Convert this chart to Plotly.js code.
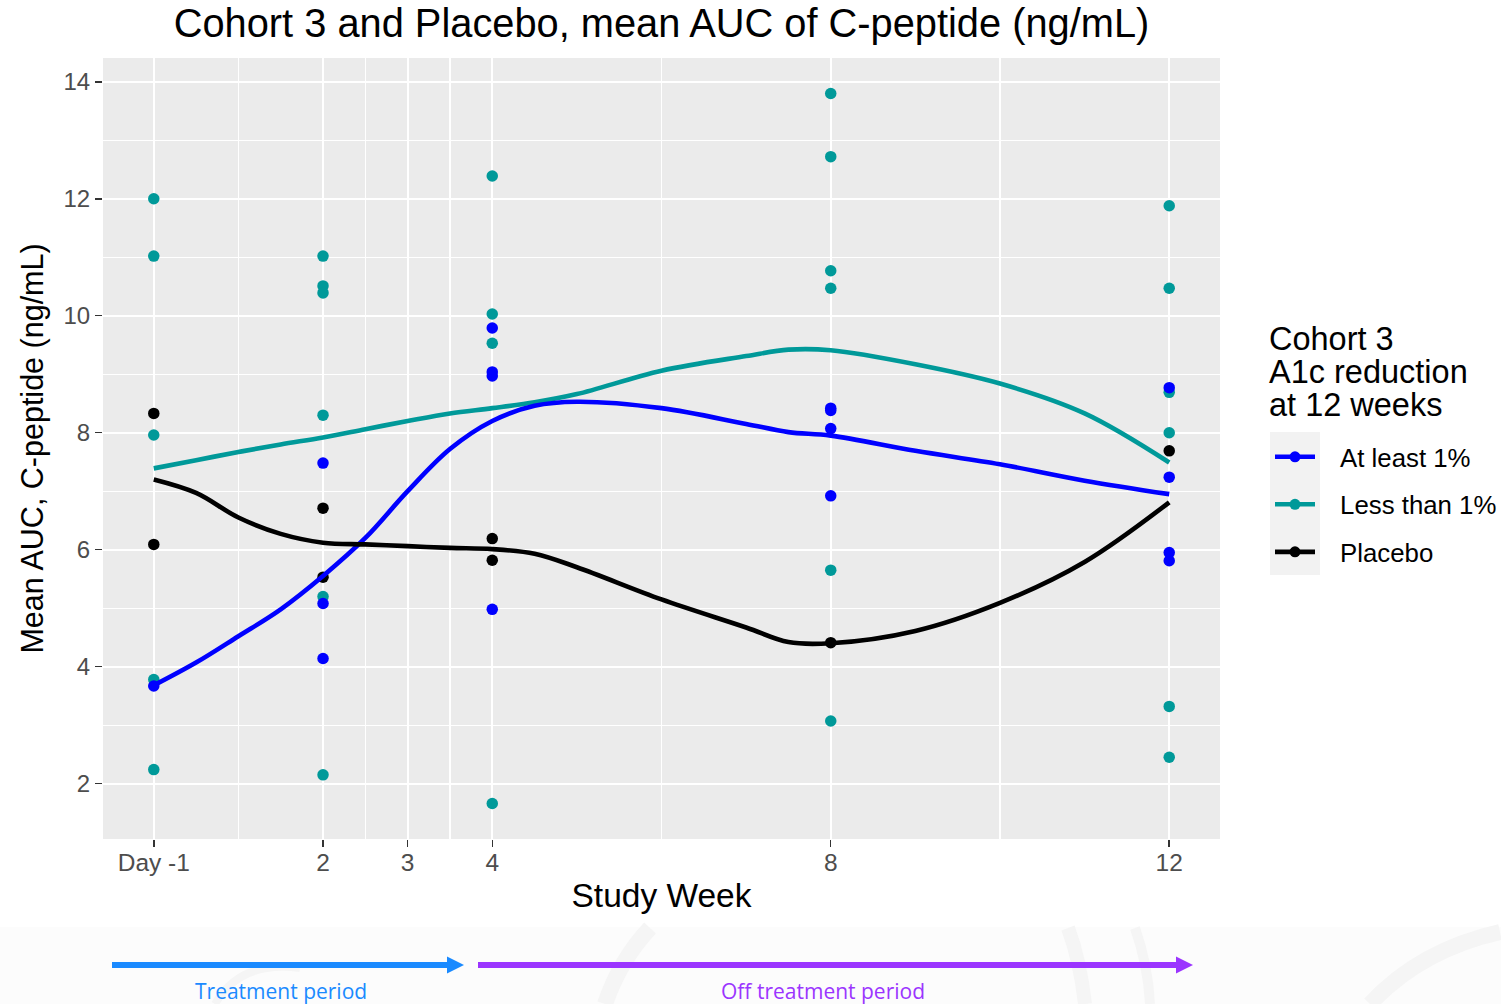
<!DOCTYPE html>
<html>
<head>
<meta charset="utf-8">
<script src="https://cdn.plot.ly/plotly-3.0.1.min.js"></script>
<style>
  html, body { margin: 0; padding: 0; background: #ffffff; }
  #chart { width: 1501px; height: 1004px; }
</style>
</head>
<body>
<div id="chart"></div>
<script>
// ---- x axis: study weeks (Day -1 plotted at 0) ----
const weekTickVals = [0, 2, 3, 4, 8, 12];
const weekTickText = ['Day -1', '2', '3', '4', '8', '12'];
const weekMinorVals = [1, 2.5, 3.5, 6, 10];
const aucTickVals = [2, 4, 6, 8, 10, 12, 14];
const aucMinorVals = [3, 5, 7, 9, 11, 13];

// ---- individual subjects: mean AUC of C-peptide (ng/mL) ----
const atLeastWeek = [0, 2, 2, 2, 4, 4, 4, 4, 8, 8, 8, 8, 12, 12, 12, 12];
const atLeastAuc  = [3.67, 7.48, 5.08, 4.14, 9.79, 9.04, 8.97, 4.98, 8.42, 8.38, 8.07, 6.92, 8.77, 7.24, 5.95, 5.81];

const lessWeek = [0, 0, 0, 0, 0, 2, 2, 2, 2, 2, 2, 4, 4, 4, 4, 8, 8, 8, 8, 8, 8, 12, 12, 12, 12, 12, 12];
const lessAuc  = [12.0, 11.02, 7.96, 3.78, 2.24, 11.02, 10.51, 10.39, 8.30, 5.20, 2.15, 12.39, 10.03, 9.53, 1.66,
                  13.80, 12.72, 10.77, 10.47, 5.65, 3.07, 11.88, 10.47, 8.69, 8.00, 3.32, 2.45];

const placeboWeek = [0, 0, 2, 2, 4, 4, 8, 12];
const placeboAuc  = [8.33, 6.09, 6.71, 5.53, 6.19, 5.82, 4.41, 7.69];

// ---- smoothed group trends ----
const smoothWeek    = [0, 0.5, 1, 1.5, 2, 2.5, 3, 3.5, 4, 4.5, 5, 6, 7, 7.5, 8, 9, 10, 11, 12];
const smoothAtLeast = [3.68, 4.07, 4.52, 4.98, 5.55, 6.20, 7.00, 7.72, 8.20, 8.46, 8.53, 8.42, 8.15, 8.01, 7.95, 7.69, 7.46, 7.18, 6.95];
const smoothLess    = [7.39, 7.53, 7.67, 7.80, 7.92, 8.06, 8.20, 8.33, 8.42, 8.52, 8.66, 9.06, 9.31, 9.42, 9.41, 9.17, 8.84, 8.33, 7.49];
const smoothPlacebo = [7.20, 6.97, 6.55, 6.27, 6.12, 6.09, 6.06, 6.03, 6.01, 5.93, 5.70, 5.15, 4.67, 4.42, 4.40, 4.61, 5.09, 5.79, 6.81];

const groupNames  = ['At least 1%', 'Less than 1%', 'Placebo'];
const groupColors = ['#0000FF', '#009999', '#000000'];

// ---- page geometry helpers (pixel -> paper fraction) ----
const W = 1501, H = 1004;
const M = { l: 103, r: 281, t: 58, b: 165, autoexpand: false };
const PW = W - M.l - M.r, PH = H - M.t - M.b;
const fx = p => (p - M.l) / PW;
const fy = p => (H - M.b - p) / PH;

const FONT = 'Liberation Sans, Arial, sans-serif';
const LINE_W = 4.6, DOT = 11.5;

function pointsTrace(x, y, color) {
  return { x: x, y: y, type: 'scatter', mode: 'markers', showlegend: false, hoverinfo: 'x+y',
           marker: { color: color, size: DOT, line: { width: 0 } } };
}
function smoothTrace(y, color) {
  return { x: smoothWeek, y: y, type: 'scatter', mode: 'lines', showlegend: false, hoverinfo: 'skip',
           line: { color: color, width: LINE_W, shape: 'spline', smoothing: 1 } };
}
// legend entries: line + dot key, label set off from the key
function legendTrace(i) {
  return { x: [null], y: [null], type: 'scatter', mode: 'lines+markers', name: '\u2002\u00A0' + groupNames[i],
           legendgroup: 'g' + i, showlegend: true,
           line: { color: groupColors[i], width: LINE_W }, marker: { color: groupColors[i], size: 11 } };
}

const data = [
  pointsTrace(lessWeek, lessAuc, groupColors[1]),
  pointsTrace(atLeastWeek, atLeastAuc, groupColors[0]),
  pointsTrace(placeboWeek, placeboAuc, groupColors[2]),
  smoothTrace(smoothLess, groupColors[1]),
  smoothTrace(smoothAtLeast, groupColors[0]),
  smoothTrace(smoothPlacebo, groupColors[2]),
  legendTrace(0), legendTrace(1), legendTrace(2)
];

// period arrows below the chart
function arrowShapes(x0, x1, headStart, color) {
  return [
    { type: 'line', xref: 'paper', yref: 'paper', x0: fx(x0), x1: fx(headStart + 1), y0: fy(965), y1: fy(965),
      line: { color: color, width: 6 } },
    { type: 'path', xref: 'paper', yref: 'paper', fillcolor: color, line: { width: 0 },
      path: `M${fx(headStart)},${fy(956.5)} L${fx(x1)},${fy(965)} L${fx(headStart)},${fy(973.5)} Z` }
  ];
}

const faint = '#F5F5F5';
function arc(p0, c, p1, w) {
  return { type: 'path', xref: 'paper', yref: 'paper', layer: 'below', line: { color: faint, width: w },
           path: `M${fx(p0[0])},${fy(p0[1])} Q${fx(c[0])},${fy(c[1])} ${fx(p1[0])},${fy(p1[1])}` };
}

const shapes = [
  // light footer band with faint decorative arcs
  { type: 'rect', xref: 'paper', yref: 'paper', layer: 'below', x0: fx(0), x1: fx(W), y0: fy(927), y1: fy(H),
    fillcolor: '#FCFCFC', line: { width: 0 } },
  arc([605, 1004], [620, 960], [650, 928], 16),
  arc([1085, 1004], [1080, 960], [1068, 928], 14),
  arc([1150, 1004], [1148, 965], [1135, 928], 10),
  arc([1370, 1004], [1420, 950], [1500, 932], 16),
  arc([215, 1004], [240, 960], [300, 968], 8),
  // legend key background
  { type: 'rect', xref: 'paper', yref: 'paper', x0: fx(1270), x1: fx(1320), y0: fy(575), y1: fy(432),
    fillcolor: '#F2F2F2', line: { width: 0 } }
].concat(arrowShapes(112, 464, 447, '#1A8AFF'), arrowShapes(478, 1193, 1176, '#9B35FF'));

const legendTitleLines = ['Cohort 3', 'A1c reduction', 'at 12 weeks'];
const legendTitleY = [339, 372, 404.5];

const annotations = legendTitleLines.map((t, i) => ({
  text: t, xref: 'paper', yref: 'paper', x: fx(1267), y: fy(legendTitleY[i]), xanchor: 'left', yanchor: 'middle',
  showarrow: false, font: { family: FONT, size: 32.5, color: '#000000' }
})).concat([
  { text: 'Treatment period', xref: 'paper', yref: 'paper', x: fx(280.5), y: fy(991), xanchor: 'center', yanchor: 'middle',
    showarrow: false, font: { family: 'Open Sans, sans-serif', size: 21, color: '#1A8AFF' } },
  { text: 'Off treatment period', xref: 'paper', yref: 'paper', x: fx(822.5), y: fy(991), xanchor: 'center', yanchor: 'middle',
    showarrow: false, font: { family: 'Open Sans, sans-serif', size: 21, color: '#9B35FF' } }
]);

const axisCommon = {
  showgrid: true, gridcolor: '#FFFFFF', gridwidth: 2.2, zeroline: false, showline: false,
  ticks: 'outside', ticklen: 7, tickwidth: 1.5, tickcolor: '#333333'
};

const layout = {
  width: W, height: H,
  margin: M,
  paper_bgcolor: '#FFFFFF',
  plot_bgcolor: '#EBEBEB',
  font: { family: FONT, color: '#000000' },
  title: {
    text: 'Cohort 3 and Placebo, mean AUC of C-peptide (ng/mL)',
    font: { family: FONT, size: 39.8, color: '#000000' },
    x: 0.5, xref: 'paper', xanchor: 'center',
    y: 1 - 23 / H, yref: 'container', yanchor: 'middle'
  },
  xaxis: Object.assign({}, axisCommon, {
    range: [-0.6, 12.6],
    tickmode: 'array', tickvals: weekTickVals, ticktext: weekTickText,
    tickfont: { family: FONT, size: 24.5, color: '#4D4D4D' },
    ticklabelstandoff: -5,
    minor: { tickmode: 'array', tickvals: weekMinorVals, showgrid: true, gridcolor: '#FFFFFF', gridwidth: 1.1, ticks: '' },
    title: { text: 'Study Week', font: { family: FONT, size: 33.5, color: '#000000' }, standoff: 8 }
  }),
  yaxis: Object.assign({}, axisCommon, {
    range: [1.053, 14.407],
    tickmode: 'array', tickvals: aucTickVals,
    tickfont: { family: FONT, size: 24, color: '#4D4D4D' },
    minor: { tickmode: 'array', tickvals: aucMinorVals, showgrid: true, gridcolor: '#FFFFFF', gridwidth: 1.1, ticks: '' },
    title: { text: 'Mean AUC, C-peptide (ng/mL)', font: { family: FONT, size: 30.5, color: '#000000' }, standoff: 10 }
  }),
  showlegend: true,
  legend: {
    x: fx(1270), xanchor: 'left', y: fy(433.5), yanchor: 'top',
    bgcolor: 'rgba(0,0,0,0)', borderwidth: 0,
    font: { family: FONT, size: 25.8, color: '#000000' },
    itemwidth: 40, tracegroupgap: 11, traceorder: 'grouped'
  },
  shapes: shapes,
  annotations: annotations
};

Plotly.newPlot('chart', data, layout, { displayModeBar: false, staticPlot: true });
</script>
</body>
</html>
